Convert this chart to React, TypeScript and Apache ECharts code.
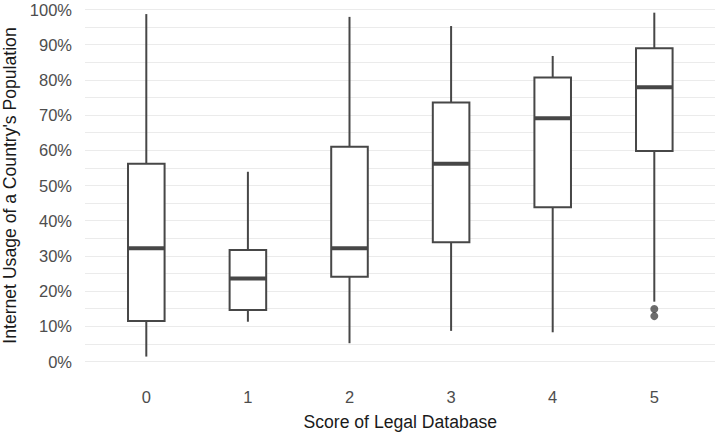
import React, { useEffect, useRef } from "react";
import * as echarts from "echarts";

const categories = ["0", "1", "2", "3", "4", "5"];
const whiskerLow = [1.4, 11.3, 5.2, 8.7, 8.3, 17.0];
const q1 = [11.5, 14.6, 24.1, 33.9, 43.8, 59.8];
const median = [32.2, 23.6, 32.2, 56.2, 69.1, 77.9];
const q3 = [56.2, 31.7, 61.0, 73.6, 80.7, 89.0];
const whiskerHigh = [98.7, 53.9, 97.9, 95.3, 86.8, 99.1];
const outliers: [number, number][] = [
  [5, 14.9],
  [5, 12.9],
];

const LINE = "#474747";
const GRID = "#ebebeb";
const FONT = "Liberation Sans, Arial, sans-serif";

export default function App() {
  const ref = useRef<HTMLDivElement>(null);
  useEffect(() => {
    document.body.style.margin = "0";
    if (!ref.current) return;
    const chart = echarts.init(ref.current, null, { renderer: "svg" });
    const boxData = categories.map((_, i) => [
      i,
      whiskerLow[i],
      q1[i],
      median[i],
      q3[i],
      whiskerHigh[i],
    ]);
    const top = 9.5;
    const bottom = 435 - 361.5;
    chart.setOption({
      animation: false,
      backgroundColor: "#ffffff",
      grid: [
        { left: 85, right: 5, top, bottom, outerBoundsMode: "none", containLabel: false },
        { left: 95.5, width: 609.6, top, bottom, outerBoundsMode: "none", containLabel: false },
      ],
      xAxis: [
        { gridIndex: 0, type: "value", show: false, min: 0, max: 1 },
        {
          gridIndex: 1,
          type: "category",
          data: categories,
          boundaryGap: true,
          axisLine: { show: false },
          axisTick: { show: false },
          splitLine: { show: false },
          axisLabel: { color: "#4d4d4d", fontSize: 16.5, fontFamily: FONT, margin: 26.5 },
          name: "Score of Legal Database",
          nameLocation: "middle",
          nameGap: 51,
          nameTextStyle: { color: "#1a1a1a", fontSize: 17.6, fontFamily: FONT },
        },
      ],
      yAxis: [
        {
          gridIndex: 0,
          type: "value",
          min: 0,
          max: 100,
          interval: 10,
          axisLine: { show: false },
          axisTick: { show: false },
          axisLabel: {
            color: "#4d4d4d",
            fontSize: 16.5,
            fontFamily: FONT,
            margin: 13,
            formatter: (v: number) => `${v}%`,
          },
          splitLine: { show: true, lineStyle: { color: GRID, width: 1 } },
          minorTick: { show: false, splitNumber: 2 },
          minorSplitLine: { show: true, lineStyle: { color: GRID, width: 1 } },
          name: "Internet Usage of a Country's Population",
          nameLocation: "middle",
          nameGap: 61,
          nameRotate: 90,
          nameTextStyle: { color: "#1a1a1a", fontSize: 17.6, fontFamily: FONT },
        },
        { gridIndex: 1, type: "value", min: 0, max: 100, show: false },
      ],
      series: [
        {
          type: "custom",
          xAxisIndex: 1,
          yAxisIndex: 1,
          data: boxData,
          encode: { x: 0, y: [1, 2, 3, 4, 5] },
          renderItem: (params: any, api: any) => {
            const x = api.value(0);
            const pLo = api.coord([x, api.value(1)]);
            const pQ1 = api.coord([x, api.value(2)]);
            const pMed = api.coord([x, api.value(3)]);
            const pQ3 = api.coord([x, api.value(4)]);
            const pHi = api.coord([x, api.value(5)]);
            const w = api.size([1, 0])[0] * 0.36;
            const cx = pMed[0];
            const stroke = { stroke: LINE, lineWidth: 2, fill: "none" };
            return {
              type: "group",
              children: [
                { type: "line", shape: { x1: cx, y1: pLo[1], x2: cx, y2: pQ1[1] }, style: stroke },
                { type: "line", shape: { x1: cx, y1: pQ3[1], x2: cx, y2: pHi[1] }, style: stroke },
                {
                  type: "rect",
                  shape: { x: cx - w / 2, y: pQ3[1], width: w, height: pQ1[1] - pQ3[1] },
                  style: { stroke: LINE, lineWidth: 2, fill: "#ffffff" },
                },
                {
                  type: "line",
                  shape: { x1: cx - w / 2, y1: pMed[1], x2: cx + w / 2, y2: pMed[1] },
                  style: { stroke: LINE, lineWidth: 4 },
                },
              ],
            };
          },
        },
        {
          type: "scatter",
          xAxisIndex: 1,
          yAxisIndex: 1,
          data: outliers,
          symbol: "circle",
          symbolSize: 8,
          itemStyle: { color: LINE },
        },
      ],
    });
    return () => chart.dispose();
  }, []);
  return <div ref={ref} style={{ width: 720, height: 435 }} />;
}
